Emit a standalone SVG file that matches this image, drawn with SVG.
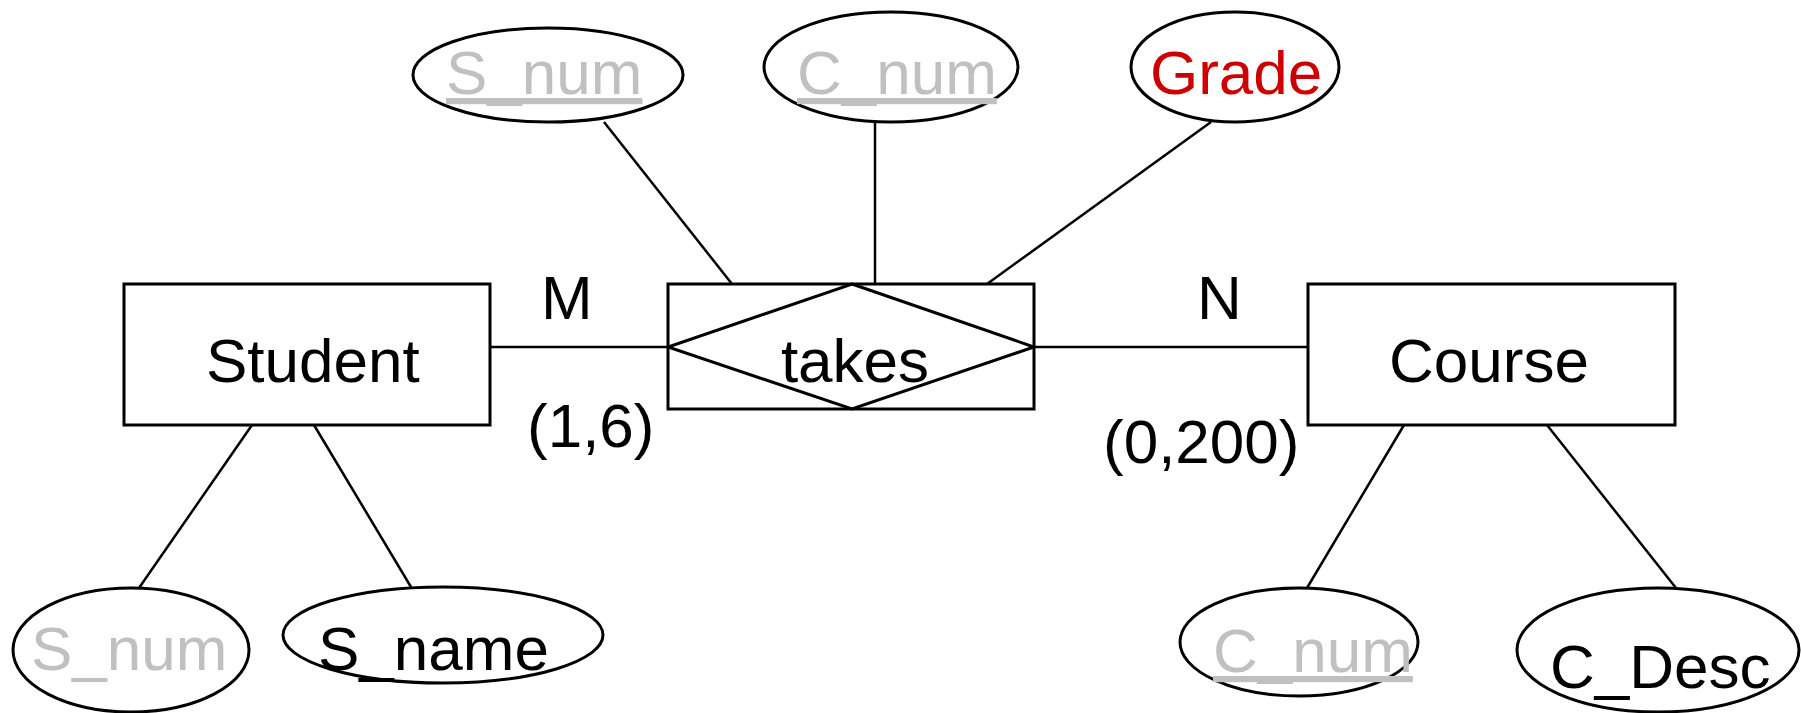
<svg xmlns="http://www.w3.org/2000/svg" width="1801" height="713" viewBox="0 0 1801 713">
  <style>
    .shape { fill: #ffffff; stroke: #000000; stroke-width: 3; }
    .link { stroke: #000000; stroke-width: 2.5; fill: none; }
    .label { font-family: "Liberation Sans", Arial, sans-serif; font-size: 62px; fill: #000000; }
    .key { fill: #c0c0c0; text-decoration: underline; }
    .partial { fill: #c0c0c0; }
    .rel { fill: #cc0000; }
  </style>
  <rect width="1801" height="713" fill="#ffffff"/>

  <!-- connectors -->
  <g id="connectors" class="link">
    <line x1="604" y1="122" x2="732" y2="284"/>
    <line x1="875" y1="122" x2="875" y2="284"/>
    <line x1="1211" y1="122" x2="987" y2="284"/>
    <line x1="490" y1="347" x2="668" y2="347"/>
    <line x1="1034" y1="347" x2="1308" y2="347"/>
    <line x1="252" y1="425" x2="139" y2="588"/>
    <line x1="314" y1="425" x2="411" y2="587"/>
    <line x1="1404" y1="425" x2="1307" y2="588"/>
    <line x1="1547" y1="425" x2="1676" y2="588"/>
  </g>

  <!-- entities -->
  <g id="student">
    <rect class="shape" x="124" y="284" width="366" height="141"/>
    <text class="label" x="206" y="382">Student</text>
  </g>
  <g id="course">
    <rect class="shape" x="1308" y="284" width="367" height="141"/>
    <text class="label" x="1389" y="382">Course</text>
  </g>

  <!-- associative relationship -->
  <g id="takes">
    <rect class="shape" x="668" y="284" width="366" height="125"/>
    <polygon class="shape" fill="none" points="852,284 1034,347 852,409 668,347" style="fill:none"/>
    <text class="label" x="855" y="382" text-anchor="middle">takes</text>
  </g>

  <!-- attributes of takes -->
  <g id="takes-s-num">
    <ellipse class="shape" cx="548" cy="75" rx="135" ry="47"/>
    <text class="label key" x="446" y="94">S_num</text>
  </g>
  <g id="takes-c-num">
    <ellipse class="shape" cx="891" cy="67" rx="127" ry="55"/>
    <text class="label key" x="797" y="94">C_num</text>
  </g>
  <g id="takes-grade">
    <ellipse class="shape" cx="1235" cy="67" rx="104" ry="55"/>
    <text class="label rel" x="1150" y="94">Grade</text>
  </g>

  <!-- attributes of Student -->
  <g id="student-s-num">
    <ellipse class="shape" cx="131" cy="650" rx="118" ry="62"/>
    <text class="label partial" x="31" y="670">S_num</text>
  </g>
  <g id="student-s-name">
    <ellipse class="shape" cx="443" cy="635" rx="160" ry="48"/>
    <text class="label" x="318" y="670">S_name</text>
  </g>

  <!-- attributes of Course -->
  <g id="course-c-num">
    <ellipse class="shape" cx="1299" cy="642" rx="119" ry="54"/>
    <text class="label key" x="1213" y="672">C_num</text>
  </g>
  <g id="course-c-desc">
    <ellipse class="shape" cx="1658" cy="650" rx="141" ry="62"/>
    <text class="label" x="1550" y="688">C_Desc</text>
  </g>

  <!-- cardinalities -->
  <g id="cardinality">
    <text class="label" x="541" y="319">M</text>
    <text class="label" x="527" y="447">(1,6)</text>
    <text class="label" x="1197" y="319">N</text>
    <text class="label" x="1103" y="463">(0,200)</text>
  </g>
</svg>
